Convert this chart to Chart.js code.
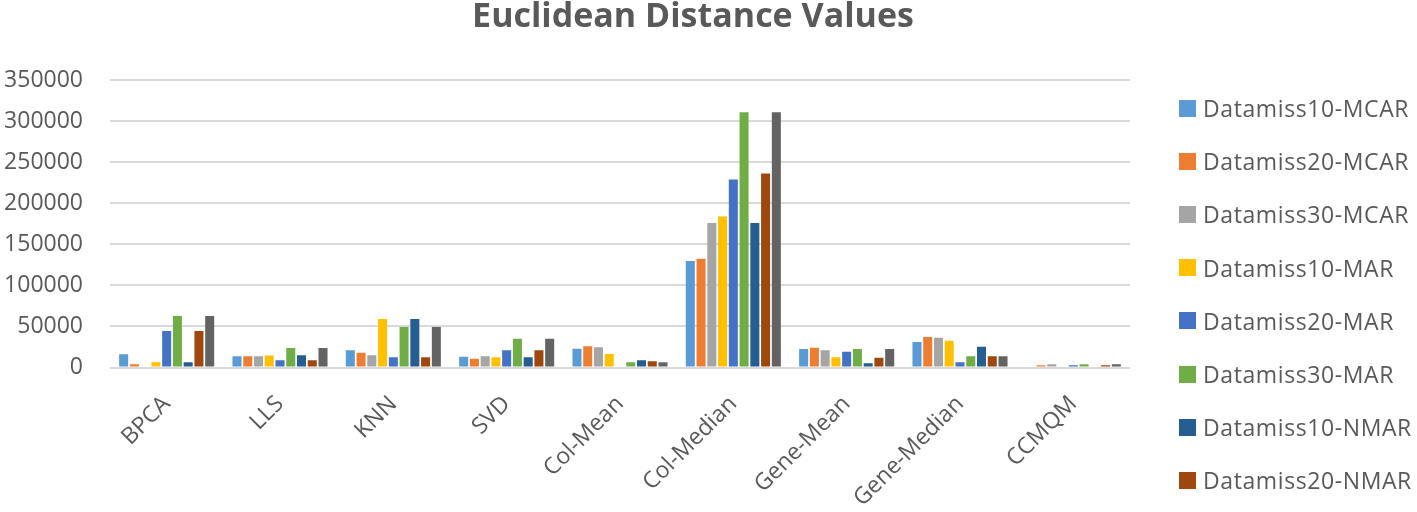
<!DOCTYPE html>
<html>
<head>
<meta charset="utf-8">
<script src="https://cdn.jsdelivr.net/npm/chart.js@4/dist/chart.umd.min.js"></script>
<style>
  html, body { margin: 0; padding: 0; background: #fff; overflow: hidden; }
  #wrap { position: relative; width: 1417px; height: 512px; }
  #title {
    position: absolute; left: 0; width: 1386px; top: -3px;
    text-align: center; font: bold 34px "Open Sans", sans-serif; line-height: 34px;
    color: #595959;
  }
  #legend { position: absolute; left: 1179px; top: 0; width: 238px; height: 512px; overflow: hidden; }
  .item { position: absolute; left: 0; height: 30px; display: flex; align-items: center;
    font: 23px "Open Sans", sans-serif; letter-spacing: 0.6px; color: #595959; white-space: nowrap; }
  .sw { width: 17px; height: 17px; margin-right: 7px; flex: none; }
</style>
</head>
<body>
<div id="wrap">
  <canvas id="chart" width="1417" height="512"></canvas>
  <div id="title">Euclidean Distance Values</div>
  <div id="legend"></div>
</div>
<script>
(function(){
  // categories (imputation methods)
  const categories = ['BPCA','LLS','KNN','SVD','Col-Mean','Col-Median','Gene-Mean','Gene-Median','CCMQM'];

  // one array per missing-data scenario
  const miss10MCAR = [16000, 13800, 21100, 13000, 22800, 129700, 22400, 30900, 0];
  const miss20MCAR = [4000, 13800, 17900, 10600, 26000, 132500, 24000, 37000, 2800];
  const miss30MCAR = [0, 13800, 15000, 13800, 24800, 176000, 21100, 36200, 4000];
  const miss10MAR  = [6500, 14600, 58900, 12600, 16300, 183700, 12600, 32500, 0];
  const miss20MAR  = [44300, 8900, 12600, 21100, 0, 228900, 19100, 6500, 2800];
  const miss30MAR  = [62600, 23600, 49200, 35000, 6500, 310600, 22400, 13800, 4000];
  const miss10NMAR = [6500, 15000, 58900, 12600, 8900, 176000, 5300, 25200, 0];
  const miss20NMAR = [44300, 8900, 12600, 21100, 7700, 236200, 11800, 13800, 2800];
  const miss30NMAR = [62600, 23600, 49200, 35000, 6500, 310600, 22400, 13800, 4000];

  const yTicks = [0, 50000, 100000, 150000, 200000, 250000, 300000, 350000];

  const seriesNames = ['Datamiss10-MCAR','Datamiss20-MCAR','Datamiss30-MCAR','Datamiss10-MAR',
    'Datamiss20-MAR','Datamiss30-MAR','Datamiss10-NMAR','Datamiss20-NMAR','Datamiss30-NMAR'];
  const seriesData = [miss10MCAR, miss20MCAR, miss30MCAR, miss10MAR, miss20MAR, miss30MAR,
    miss10NMAR, miss20NMAR, miss30NMAR];
  const colors = ['#5B9BD5','#ED7D31','#A5A5A5','#FFC000','#4472C4','#70AD47','#255E91','#9E480E','#636363'];

  const font = '"Open Sans", sans-serif';
  const txt = '#595959';

  const datasets = seriesNames.map((name, i) => ({
    label: name,
    data: seriesData[i],
    backgroundColor: colors[i],
    borderWidth: 0,
    categoryPercentage: 0.854,
    barPercentage: 0.84
  }));

  // legend (html), last entry runs off the bottom like the original
  const leg = document.getElementById('legend');
  seriesNames.forEach((name, i) => {
    const it = document.createElement('div');
    it.className = 'item';
    it.style.top = (108 - 15 + i * 53.2) + 'px';
    const sw = document.createElement('span');
    sw.className = 'sw';
    sw.style.background = colors[i];
    const t = document.createElement('span');
    t.textContent = name;
    it.appendChild(sw);
    it.appendChild(t);
    leg.appendChild(it);
  });

  new Chart(document.getElementById('chart'), {
    type: 'bar',
    data: { labels: categories, datasets },
    options: {
      responsive: false,
      animation: false,
      layout: { padding: { top: 80, left: 0, right: 287, bottom: 0 } },
      plugins: { legend: { display: false }, title: { display: false }, tooltip: { enabled: false } },
      scales: {
        x: {
          grid: { display: false },
          border: { display: false },
          ticks: { color: txt, font: { family: font, size: 23 }, minRotation: 45, maxRotation: 45, padding: 15 },
          afterFit: s => { s.height = 144.5; }
        },
        y: {
          min: 0, max: 350000,
          afterBuildTicks: s => { s.ticks = yTicks.map(v => ({ value: v })); },
          grid: { color: '#d9d9d9', lineWidth: 2, drawTicks: false },
          border: { display: false },
          ticks: { color: txt, font: { family: font, size: 23 }, padding: 27, callback: v => String(v) },
          afterFit: s => { s.width = 110; }
        }
      }
    }
  });
})();
</script>
</body>
</html>
